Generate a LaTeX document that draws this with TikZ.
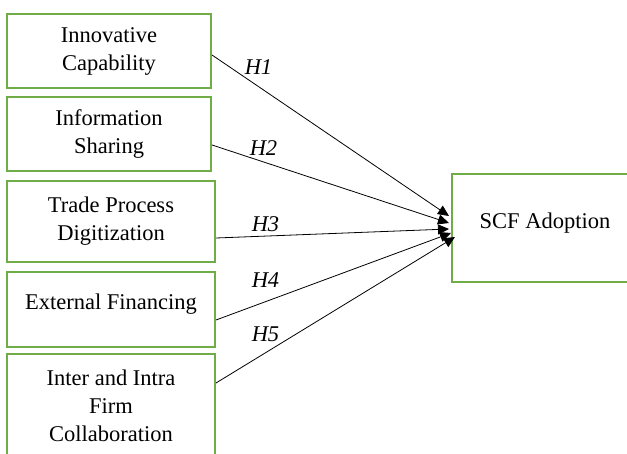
\documentclass[tikz,border=0pt]{standalone}
\usepackage{fontspec}
\setmainfont{Liberation Serif}
\usetikzlibrary{arrows.meta, positioning, calc}

\definecolor{boxgreen}{RGB}{112,173,71}

\begin{document}
\begin{tikzpicture}[x=1pt, y=1pt,
    factor/.style={draw=boxgreen, line width=2pt, align=center, inner sep=0pt,
        font=\fontsize{22.5}{28}\selectfont},
    link/.style={-{Triangle[length=11pt, width=10pt]}, line width=0.8pt},
    hyp/.style={inner sep=0pt, font=\fontsize{22.5}{28}\selectfont\itshape}]
    \useasboundingbox (0,0) rectangle (627,453);

    % Factor boxes
    \node[factor, minimum width=204, minimum height=74] (ic) at (109,402) {Innovative\\Capability};
    \node[factor, minimum width=204, minimum height=74] (is) at (109,319) {Information\\Sharing};
    \node[factor, minimum width=208, minimum height=81] (tpd) at (111,231.5) {Trade Process\\Digitization};
    \node[factor, minimum width=208, minimum height=75, text depth=15pt] (ef) at (111,143.5) {External Financing};
    \node[factor, minimum width=208, minimum height=104] (iif) at (111,47) {Inter and Intra\\Firm\\Collaboration};

    % Outcome box
    \node[factor, minimum width=186, minimum height=108, text depth=15pt] (scf) at (545,225) {SCF Adoption};

    % Arrow ends on the left side of the outcome box
    \coordinate (e1) at ($(scf.west)+(-2,12)$);
    \coordinate (e2) at ($(scf.west)+(-2,5)$);
    \coordinate (e3) at ($(scf.west)+(-2,-1)$);
    \coordinate (e4) at ($(scf.west)+(0,-5)$);
    \coordinate (e5) at ($(scf.west)+(4,-9)$);

    % Hypotheses
    \draw[link] ([yshift=-4]ic.east) -- (e1);
    \draw[link] ([yshift=-11]is.east) -- (e2);
    \draw[link] ([yshift=-16.5]tpd.east) -- (e3);
    \draw[link] ([yshift=-10.5]ef.east) -- (e4);
    \draw[link] ([yshift=23]iif.east) -- (e5);

    \node[hyp] (h1) at (258.5,385.5) {H1};
    \node[hyp] (h2) at (263.5,304.5) {H2};
    \node[hyp] (h3) at (265.5,228.5) {H3};
    \node[hyp] (h4) at (265.5,172.5) {H4};
    \node[hyp] (h5) at (265.5,118.5) {H5};
\end{tikzpicture}
\end{document}
